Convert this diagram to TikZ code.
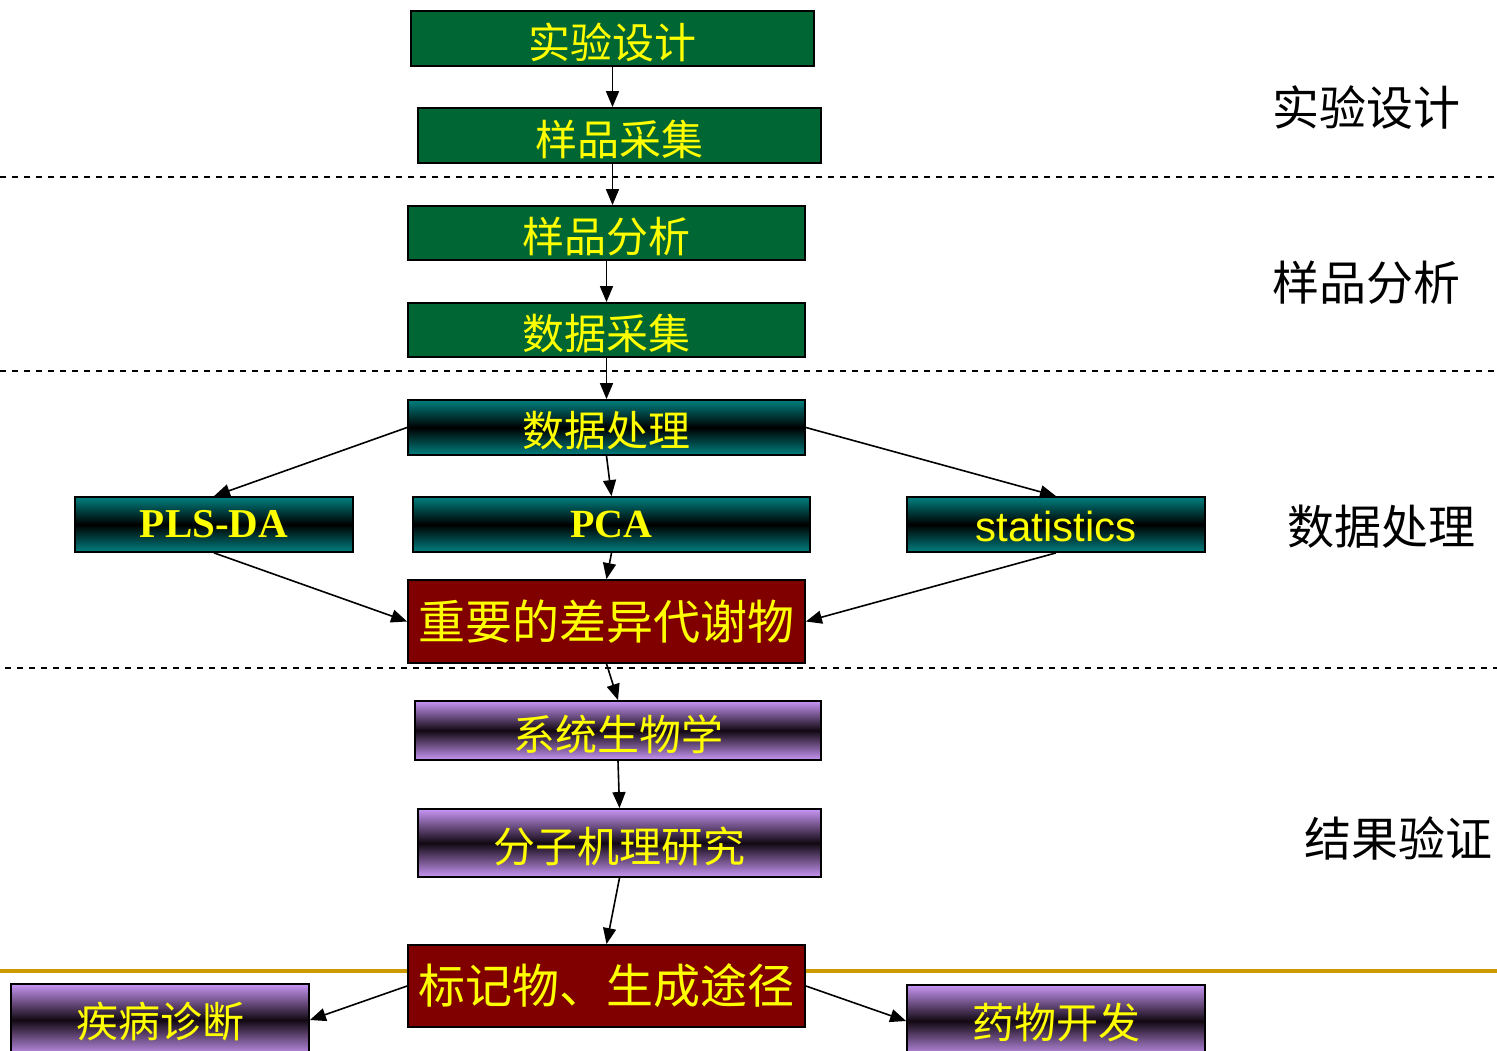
\documentclass[tikz,border=0pt]{standalone}
\usepackage{fontspec}
\newfontfamily\cjk{Noto Sans CJK SC}
\newfontfamily\tnr{Liberation Serif}
\newfontfamily\arl{Liberation Sans}
\usetikzlibrary{arrows.meta}
\definecolor{boxgreen}{HTML}{006633}
\definecolor{boxteal}{HTML}{008080}
\definecolor{boxred}{HTML}{800000}
\definecolor{boxpurple}{HTML}{C896F5}
\definecolor{purpdark}{HTML}{120812}
\definecolor{goldline}{HTML}{CC9900}
\definecolor{txtyellow}{HTML}{FFFF00}
\newcommand\lowtxt[2][-3.5pt]{\raisebox{#1}[\height][\depth]{#2}}
\tikzset{
  box/.style={draw=black, line width=1.8pt, inner sep=0pt, text=txtyellow, font=\cjk\fontsize{42}{46}\selectfont},
  greenbox/.style={box, fill=boxgreen},
  tealbox/.style={box, top color=boxteal, bottom color=boxteal, middle color=black},
  redbox/.style={box, fill=boxred, font=\cjk\fontsize{47}{50}\selectfont},
  purpbox/.style={box, top color=boxpurple, bottom color=boxpurple, middle color=purpdark},
  conn/.style={line width=1.6pt, -{Triangle[length=16pt,width=13pt]}},
  sep/.style={line width=1.5pt, dash pattern=on 6pt off 6pt},
  side/.style={font=\cjk\fontsize{47}{50}\selectfont, text=black, inner sep=0pt}
}
\begin{document}
\begin{tikzpicture}[x=1pt,y=-1pt]
\clip (0,0) rectangle (1497,1051);
\fill[white] (0,0) rectangle (1497,1051);
% separators
\draw[sep] (0,177) -- (1497,177);
\draw[sep] (0,371) -- (1497,371);
\draw[sep] (5,668) -- (1497,668);
\draw[goldline, line width=3.5pt] (0,971) -- (1497,971);
% nodes
\node[greenbox, minimum width=403pt, minimum height=55pt] (e1) at (612.5,38.5) {\lowtxt{实验设计}};
\node[greenbox, minimum width=403pt, minimum height=55pt] (e2) at (619.5,135.5) {\lowtxt{样品采集}};
\node[greenbox, minimum width=397pt, minimum height=54pt] (s1) at (606.5,233) {\lowtxt{样品分析}};
\node[greenbox, minimum width=397pt, minimum height=54pt] (s2) at (606.5,330) {\lowtxt{数据采集}};
\node[tealbox, minimum width=397pt, minimum height=55pt] (d0) at (606.5,427.5) {\lowtxt{数据处理}};
\node[tealbox, minimum width=278pt, minimum height=55pt, font=\tnr\bfseries\fontsize{41}{46}\selectfont] (pls) at (214,524.5) {PLS-DA};
\node[tealbox, minimum width=397pt, minimum height=55pt, font=\tnr\bfseries\fontsize{40}{46}\selectfont] (pca) at (611.5,524.5) {PCA};
\node[tealbox, minimum width=298pt, minimum height=55pt, font=\arl\fontsize{42}{46}\selectfont] (stat) at (1056,524.5) {\lowtxt[-1.5pt]{statistics}};
\node[redbox, minimum width=397pt, minimum height=83pt] (imp) at (606.5,621.5) {重要的差异代谢物};
\node[purpbox, minimum width=406pt, minimum height=59pt] (sys) at (618,730.5) {\lowtxt{系统生物学}};
\node[purpbox, minimum width=403pt, minimum height=68pt] (mol) at (619.5,843) {\lowtxt{分子机理研究}};
\node[redbox, minimum width=397pt, minimum height=82pt] (mark) at (606.5,986) {标记物、生成途径};
\node[purpbox, minimum width=298pt, minimum height=72pt] (dis) at (160,1020) {\lowtxt[-2pt]{疾病诊断}};
\node[purpbox, minimum width=298pt, minimum height=72pt] (drug) at (1056,1021) {\lowtxt[-2pt]{药物开发}};
% side labels
\node[side] (l1) at (1366,108) {实验设计};
\node[side] (l2) at (1366,283) {样品分析};
\node[side] (l3) at (1381,527) {数据处理};
\node[side] (l4) at (1398,838) {结果验证};
% connectors
\draw[conn] (e1.south) -- (e1.south |- e2.north);
\draw[conn] (e1.south |- e2.south) -- (e1.south |- s1.north);
\draw[conn] (s1.south) -- (s2.north);
\draw[conn] (s2.south) -- (d0.north);
\draw[conn] (d0.west) -- (pls.north);
\draw[conn] (d0.south) -- (pca.north);
\draw[conn] (d0.east) -- (stat.north);
\draw[conn] (pls.south) -- (imp.west);
\draw[conn] (pca.south) -- (imp.north);
\draw[conn] (stat.south) -- (imp.east);
\draw[conn] (imp.south) -- (sys.north);
\draw[conn] (sys.south) -- (mol.north);
\draw[conn] (mol.south) -- (mark.north);
\draw[conn] (mark.west) -- (dis.east);
\draw[conn] (mark.east) -- (drug.west);
\end{tikzpicture}
\end{document}
